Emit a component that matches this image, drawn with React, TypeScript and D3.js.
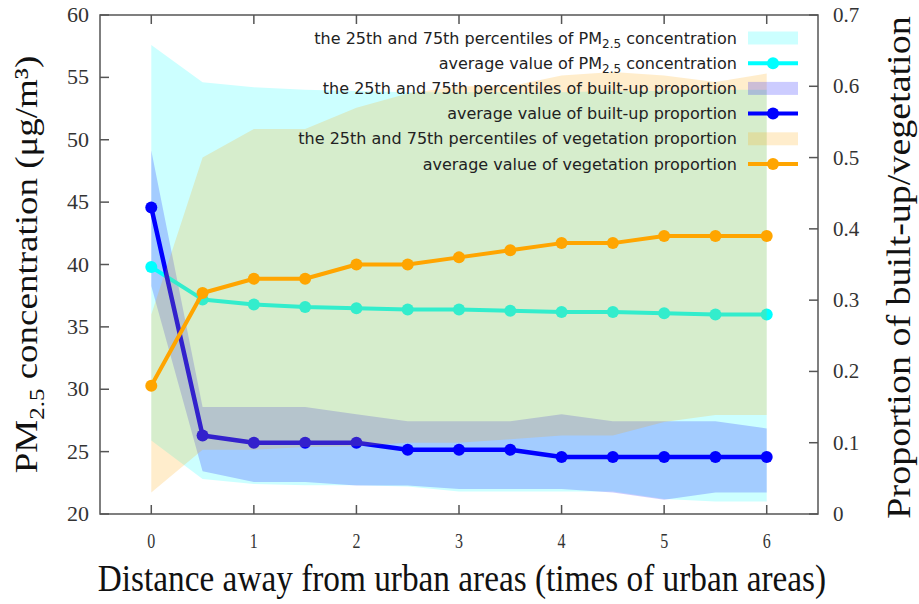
import React from "react";
import * as d3 from "d3";

// Distance from urban areas, in multiples of the urban area size
const distance = [0, 0.5, 1, 1.5, 2, 2.5, 3, 3.5, 4, 4.5, 5, 5.5, 6];

// PM2.5 concentration (μg/m³)
const pmMean = [39.8, 37.2, 36.8, 36.6, 36.5, 36.4, 36.4, 36.3, 36.2, 36.2, 36.1, 36.0, 36.0];
const pmP25 = [25.9, 22.8, 22.4, 22.3, 22.3, 22.2, 21.8, 21.8, 21.8, 21.8, 21.2, 21.0, 21.0];
const pmP75 = [57.6, 54.6, 54.2, 54.0, 53.9, 53.8, 53.8, 53.8, 53.8, 53.9, 53.9, 54.0, 54.0];

// Built-up proportion
const builtMean = [0.43, 0.11, 0.1, 0.1, 0.1, 0.09, 0.09, 0.09, 0.08, 0.08, 0.08, 0.08, 0.08];
const builtP25 = [0.32, 0.06, 0.045, 0.045, 0.04, 0.04, 0.035, 0.035, 0.035, 0.03, 0.02, 0.03, 0.03];
const builtP75 = [0.51, 0.15, 0.15, 0.15, 0.14, 0.13, 0.13, 0.13, 0.14, 0.13, 0.13, 0.13, 0.12];

// Vegetation proportion
const vegMean = [0.18, 0.31, 0.33, 0.33, 0.35, 0.35, 0.36, 0.37, 0.38, 0.38, 0.39, 0.39, 0.39];
const vegP25 = [0.03, 0.09, 0.09, 0.094, 0.095, 0.1, 0.1, 0.105, 0.11, 0.11, 0.129, 0.139, 0.139];
const vegP75 = [0.28, 0.5, 0.54, 0.54, 0.57, 0.59, 0.6, 0.6, 0.615, 0.62, 0.615, 0.606, 0.618];

const xTicks = [0, 1, 2, 3, 4, 5, 6];
const leftTicks = [20, 25, 30, 35, 40, 45, 50, 55, 60];
const rightTicks = [0, 0.1, 0.2, 0.3, 0.4, 0.5, 0.6, 0.7];

const W = 919;
const H = 604;
const M = { left: 100, right: 818, top: 15, bottom: 514 };

const CYAN = "#00FFFF";
const BLUE = "#0000FF";
const ORANGE = "#FFA500";
const BAND_OPACITY = 0.2;

const x = d3.scaleLinear().domain([-0.5, 6.5]).range([M.left, M.right]);
const yL = d3.scaleLinear().domain([20, 60]).range([M.bottom, M.top]);
const yR = d3.scaleLinear().domain([0, 0.7]).range([M.bottom, M.top]);

type Band = { d: number; lo: number; hi: number };
const band = (lo: number[], hi: number[]): Band[] =>
  distance.map((d, i) => ({ d, lo: lo[i], hi: hi[i] }));

const areaFor = (y: d3.ScaleLinear<number, number>) =>
  d3
    .area<Band>()
    .x((p) => x(p.d))
    .y0((p) => y(p.lo))
    .y1((p) => y(p.hi));

const lineFor = (y: d3.ScaleLinear<number, number>) =>
  d3
    .line<number>()
    .x((_, i) => x(distance[i]))
    .y((v) => y(v));

const SERIF = "'Liberation Serif', 'Times New Roman', serif";
const SANS = "'DejaVu Sans', Verdana, sans-serif";

function Series({
  values,
  y,
  color,
  width,
}: {
  values: number[];
  y: d3.ScaleLinear<number, number>;
  color: string;
  width: number;
}) {
  return (
    <g>
      <path d={lineFor(y)(values) || ""} fill="none" stroke={color} strokeWidth={width} strokeLinejoin="round" />
      {values.map((v, i) => (
        <circle key={i} cx={x(distance[i])} cy={y(v)} r={6} fill={color} />
      ))}
    </g>
  );
}

const legendItems: { kind: "band" | "line"; color: string; label: React.ReactNode }[] = [
  {
    kind: "band",
    color: CYAN,
    label: (
      <>
        the 25th and 75th percentiles of PM<tspan fontSize="12" dy="4">2.5</tspan>
        <tspan dy="-4"> concentration</tspan>
      </>
    ),
  },
  {
    kind: "line",
    color: CYAN,
    label: (
      <>
        average value of PM<tspan fontSize="12" dy="4">2.5</tspan>
        <tspan dy="-4"> concentration</tspan>
      </>
    ),
  },
  { kind: "band", color: BLUE, label: "the 25th and 75th percentiles of built-up proportion" },
  { kind: "line", color: BLUE, label: "average value of built-up proportion" },
  { kind: "band", color: ORANGE, label: "the 25th and 75th percentiles of vegetation proportion" },
  { kind: "line", color: ORANGE, label: "average value of vegetation proportion" },
];

export default function App() {
  const tickLen = 9;
  const axisColor = "#555";
  return (
    <svg width={W} height={H} style={{ display: "block", position: "absolute", left: 0, top: 0 }}>
      <rect width={W} height={H} fill="#fff" />

      {/* interquartile bands and averages */}
      <path d={areaFor(yL)(band(pmP25, pmP75)) || ""} fill={CYAN} fillOpacity={BAND_OPACITY} />
      <path d={areaFor(yR)(band(builtP25, builtP75)) || ""} fill={BLUE} fillOpacity={BAND_OPACITY} />
      <Series values={pmMean} y={yL} color={CYAN} width={4} />
      <Series values={builtMean} y={yR} color={BLUE} width={4.5} />
      <Series values={vegMean} y={yR} color={ORANGE} width={4} />
      <path d={areaFor(yR)(band(vegP25, vegP75)) || ""} fill={ORANGE} fillOpacity={BAND_OPACITY} />

      {/* frame */}
      <rect
        x={M.left}
        y={M.top}
        width={M.right - M.left}
        height={M.bottom - M.top}
        fill="none"
        stroke={axisColor}
        strokeWidth={1.5}
      />

      {/* x ticks (bottom and top, inward) */}
      {xTicks.map((t) => (
        <g key={"x" + t}>
          <line x1={x(t)} x2={x(t)} y1={M.bottom} y2={M.bottom - tickLen} stroke={axisColor} strokeWidth={1.5} />
          <line x1={x(t)} x2={x(t)} y1={M.top} y2={M.top + tickLen} stroke={axisColor} strokeWidth={1.5} />
          <text
            transform={`translate(${x(t)},${548}) scale(0.8,1)`}
            textAnchor="middle"
            fontFamily={SERIF}
            fontSize={20}
            fill="#333"
          >
            {t}
          </text>
        </g>
      ))}

      {/* left axis */}
      {leftTicks.map((t) => (
        <g key={"l" + t}>
          <line x1={M.left} x2={M.left + tickLen} y1={yL(t)} y2={yL(t)} stroke={axisColor} strokeWidth={1.5} />
          <text x={89} y={yL(t) + 7} textAnchor="end" fontFamily={SERIF} fontSize={22} fill="#333">
            {t}
          </text>
        </g>
      ))}

      {/* right axis */}
      {rightTicks.map((t) => (
        <g key={"r" + t}>
          <line x1={M.right} x2={M.right - tickLen} y1={yR(t)} y2={yR(t)} stroke={axisColor} strokeWidth={1.5} />
          <text x={833} y={yR(t) + 7} textAnchor="start" fontFamily={SERIF} fontSize={21} fill="#333">
            {t === 0 ? "0" : d3.format(".1f")(t)}
          </text>
        </g>
      ))}

      {/* axis titles */}
      <text
        transform={`translate(462,591) scale(0.9,1)`}
        textAnchor="middle"
        fontFamily={SERIF}
        fontSize={37}
        fill="#111"
      >
        Distance away from urban areas (times of urban areas)
      </text>
      <text
        transform={`translate(37,${(M.top + M.bottom) / 2}) scale(0.87,1) rotate(-90)`}
        textAnchor="middle"
        fontFamily={SERIF}
        fontSize={37}
        fill="#111"
      >
        PM<tspan fontSize="25" dy="8">2.5</tspan>
        <tspan dy="-8"> concentration (μg/m³)</tspan>
      </text>
      <text
        transform={`translate(910,${(M.top + M.bottom) / 2 + 3}) scale(0.87,1) rotate(-90)`}
        textAnchor="middle"
        fontFamily={SERIF}
        fontSize={38}
        fill="#111"
      >
        Proportion of built-up/vegetation
      </text>

      {/* legend */}
      {legendItems.map((item, i) => {
        const cy = 38 + i * 25.2;
        return (
          <g key={"lg" + i}>
            <text x={737} y={cy + 5.5} textAnchor="end" fontFamily={SANS} fontSize={16} fill="#222">
              {item.label}
            </text>
            {item.kind === "band" ? (
              <rect x={748} y={cy - 6.5} width={50} height={13} fill={item.color} fillOpacity={BAND_OPACITY} />
            ) : (
              <g>
                <line x1={748} x2={798} y1={cy} y2={cy} stroke={item.color} strokeWidth={4} />
                <circle cx={773} cy={cy} r={6} fill={item.color} />
              </g>
            )}
          </g>
        );
      })}
    </svg>
  );
}
